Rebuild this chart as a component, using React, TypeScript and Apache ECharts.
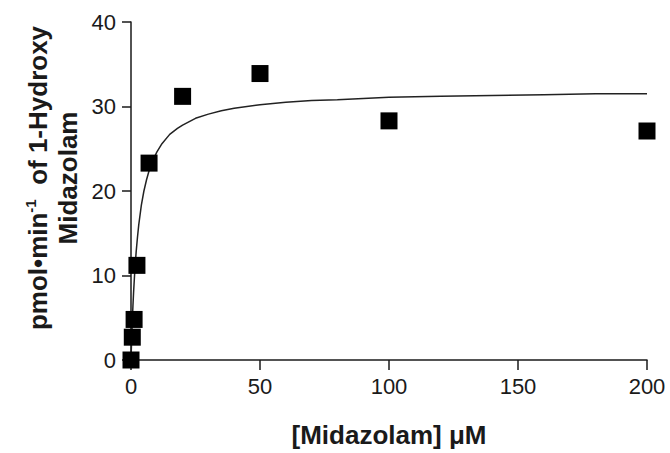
import React, { useEffect, useRef } from "react";
import * as echarts from "echarts";

// Measured data points: [Midazolam] (µM) vs pmol·min⁻¹ of 1-Hydroxy Midazolam
const concentrations = [0, 0.5, 1.2, 2.3, 7, 20, 50, 100, 200];
const rates = [0, 2.7, 4.8, 11.2, 23.3, 31.2, 33.9, 28.3, 27.1];

// Fitted curve
const curveX = [0, 0.1, 0.25, 0.5, 0.75, 1, 1.5, 2, 2.5, 3, 4, 5, 6, 7, 8, 10, 12, 15, 18, 20, 25, 30, 35, 40, 50, 60, 70, 80, 100, 120, 140, 160, 180, 200];
const curveY = [0, 1.0, 2.5, 4.6, 6.4, 8.0, 10.7, 12.8, 14.5, 16.0, 18.3, 20.0, 21.3, 22.4, 23.3, 24.6, 25.6, 26.7, 27.4, 27.8, 28.6, 29.1, 29.5, 29.8, 30.2, 30.5, 30.7, 30.8, 31.1, 31.2, 31.3, 31.4, 31.5, 31.5];

const xTicks = [0, 50, 100, 150, 200];
const yTicks = [0, 10, 20, 30, 40];

const xTitle = "[Midazolam] \u03bcM";

export default function App() {
  const ref = useRef<HTMLDivElement>(null);

  useEffect(() => {
    if (!ref.current) return;
    const chart = echarts.init(ref.current, undefined, { renderer: "svg" });
    const font = "'Liberation Sans', Arial, sans-serif";
    const ink = "#1a1a1a";
    chart.setOption({
      animation: false,
      backgroundColor: "#ffffff",
      grid: { left: 131, right: 23, top: 22, bottom: 89, containLabel: false },
      xAxis: {
        type: "value",
        min: xTicks[0],
        max: xTicks[xTicks.length - 1],
        interval: xTicks[1] - xTicks[0],
        splitLine: { show: false },
        axisLine: { show: true, onZero: false, lineStyle: { color: ink, width: 1.5 } },
        axisTick: { show: true, length: 10, lineStyle: { color: ink, width: 1.5 } },
        axisLabel: { color: ink, fontSize: 22, fontFamily: font, margin: 15 },
        name: xTitle,
        nameLocation: "middle",
        nameGap: 62,
        nameTextStyle: { color: ink, fontSize: 26, fontWeight: "bold", fontFamily: font },
      },
      yAxis: {
        type: "value",
        min: yTicks[0],
        max: yTicks[yTicks.length - 1],
        interval: yTicks[1] - yTicks[0],
        splitLine: { show: false },
        axisLine: { show: true, onZero: false, lineStyle: { color: ink, width: 1.5 } },
        axisTick: { show: true, length: 9, lineStyle: { color: ink, width: 1.5 } },
        axisLabel: { color: ink, fontSize: 22, fontFamily: font, margin: 15 },
      },
      graphic: [
        {
          type: "text",
          x: 53,
          y: 178,
          rotation: Math.PI / 2,
          style: {
            text: "{a|pmol\u2022min}{s|-1}{a|  of 1-Hydroxy}\n{a|Midazolam}",
            align: "center",
            verticalAlign: "middle",
            fill: ink,
            rich: {
              a: { fontSize: 26, fontWeight: "bold", fontFamily: font, lineHeight: 30, fill: ink, align: "center" },
              s: { fontSize: 15, fontWeight: "bold", fontFamily: font, lineHeight: 30, verticalAlign: "top", fill: ink, padding: [0, 0, 14, 0] },
            },
          },
        },
      ],
      series: [
        {
          type: "line",
          data: curveX.map((x, i) => [x, curveY[i]]),
          showSymbol: false,
          smooth: false,
          lineStyle: { color: "#222", width: 1.5 },
          silent: true,
          z: 2,
        },
        {
          type: "scatter",
          data: concentrations.map((x, i) => [x, rates[i]]),
          symbol: "rect",
          symbolSize: 17,
          itemStyle: { color: "#000", opacity: 1 },
          z: 3,
        },
      ],
    });
    return () => chart.dispose();
  }, []);

  return (
    <div
      ref={ref}
      style={{ position: "fixed", left: 0, top: 0, width: 670, height: 453, background: "#fff" }}
    />
  );
}
